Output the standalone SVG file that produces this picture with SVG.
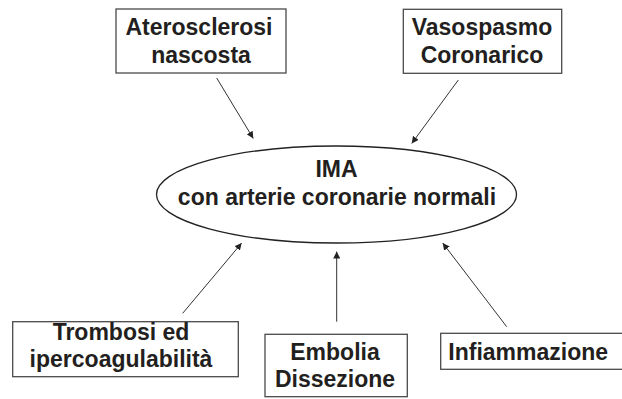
<svg xmlns="http://www.w3.org/2000/svg" width="622" height="399" viewBox="0 0 622 399">
<defs>
<style>
.box{fill:#fff;stroke:#4a4a4a;stroke-width:1.3}
.el{fill:#fff;stroke:#222;stroke-width:1.3}
.t{font-family:"Liberation Sans",Arial,sans-serif;font-weight:bold;font-size:23px;fill:#231f20;text-anchor:middle}
.c{stroke:#333;stroke-width:1;fill:none;marker-end:url(#ah)}
</style>
<marker id="ah" viewBox="0 0 10 10" refX="10" refY="5" markerWidth="7" markerHeight="7" markerUnits="userSpaceOnUse" orient="auto">
<path d="M0,0 L10,5 L0,10 z" fill="#222"/>
</marker>
</defs>
<rect width="622" height="399" fill="#fff"/>
<g id="connectors">
<line class="c" x1="216.7" y1="78" x2="253.3" y2="138.5"/>
<line class="c" x1="458.3" y1="80" x2="411.7" y2="143.5"/>
<line class="c" x1="182.7" y1="313.3" x2="241.7" y2="243"/>
<line class="c" x1="336.7" y1="321.7" x2="336.7" y2="251.5"/>
<line class="c" x1="506.7" y1="326.7" x2="442.7" y2="243"/>
</g>
<g id="center">
<ellipse class="el" cx="336.5" cy="194.5" rx="180" ry="48.5"/>
<text class="t" x="336.5" y="176.7">IMA</text>
<text class="t" x="337" y="205">con arterie coronarie normali</text>
</g>
<g id="aterosclerosi">
<rect class="box" x="116" y="9" width="170" height="64"/>
<text class="t" x="199" y="35">Aterosclerosi</text>
<text class="t" x="201" y="63">nascosta</text>
</g>
<g id="vasospasmo">
<rect class="box" x="403.3" y="9.3" width="158.4" height="64"/>
<text class="t" x="482" y="35">Vasospasmo</text>
<text class="t" x="482" y="63">Coronarico</text>
</g>
<g id="trombosi">
<rect class="box" x="12.7" y="321.7" width="225.6" height="55"/>
<text class="t" x="121" y="340">Trombosi ed</text>
<text class="t" x="121" y="366.7">ipercoagulabilità</text>
</g>
<g id="embolia">
<rect class="box" x="265" y="334.3" width="142.3" height="62.4"/>
<text class="t" x="335" y="360">Embolia</text>
<text class="t" x="335" y="386.7">Dissezione</text>
</g>
<g id="infiammazione">
<rect class="box" x="440.7" y="333.3" width="190" height="36"/>
<text class="t" x="448.3" y="360" style="text-anchor:start">Infiammazione</text>
</g>
</svg>
